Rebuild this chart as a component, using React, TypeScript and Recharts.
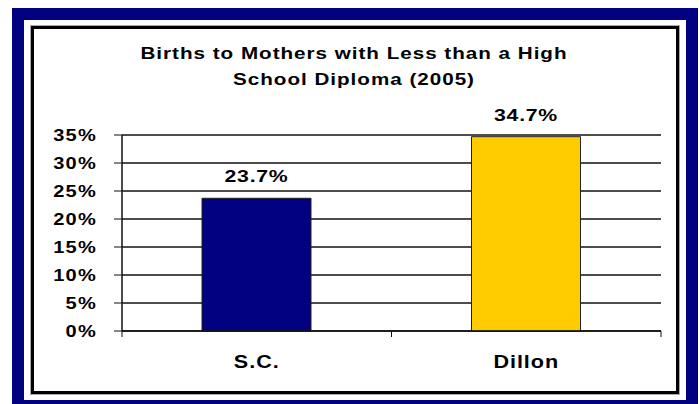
import React from "react";
import {
    BarChart, Bar, XAxis, YAxis, CartesianGrid, Cell, LabelList,
} from "recharts";

const titleLines = ["Births to Mothers with Less than a High", "School Diploma (2005)"];
const categories = ["S.C.", "Dillon"];
const values = [23.7, 34.7];
const barColors = ["#000080", "#FFCC00"];
const yTicks = [0, 5, 10, 15, 20, 25, 30, 35];

const data = categories.map((name, i) => ({ name, value: values[i] }));

const FONT = "'Liberation Sans', Arial, sans-serif";
const INK = "#111";
const STRETCH = 1.25; // the original text is drawn wide

function YTick({ x, y, payload }: any) {
    return (
        <text
            transform={`translate(${x},${y + 6}) scale(${STRETCH},1)`}
            textAnchor="end"
            fontFamily={FONT}
            fontWeight="bold"
            fontSize={16}
            letterSpacing={1}
            fill="#000"
        >
            {`${payload.value}%`}
        </text>
    );
}

function XTick({ x, y, payload, index }: any) {
    const off = payload?.offset ?? 0;
    const last = index === categories.length - 1;
    return (
        <g>
            {off > 0 && <line x1={x - off} x2={x - off} y1={y} y2={y + 6} stroke={INK} strokeWidth={1} />}
            {off > 0 && last && <line x1={x + off} x2={x + off} y1={y} y2={y + 6} stroke={INK} strokeWidth={1} />}
            <text
                transform={`translate(${x},${y + 37}) scale(1.2,1)`}
                textAnchor="middle"
                fontFamily={FONT}
                fontWeight="bold"
                fontSize={18}
                letterSpacing={0.8}
                fill="#000"
            >
                {payload.value}
            </text>
        </g>
    );
}

function ValueLabel({ x, y, width, value }: any) {
    return (
        <text
            transform={`translate(${x + width / 2},${y - 16}) scale(${STRETCH},1)`}
            textAnchor="middle"
            fontFamily={FONT}
            fontWeight="bold"
            fontSize={17}
            letterSpacing={0.6}
            fill="#000"
        >
            {`${value}%`}
        </text>
    );
}

export default function App() {
    return (
        <div style={{ position: "absolute", left: 0, top: 0, width: 699, height: 404, overflow: "hidden", background: "#fff" }}>
            {/* navy frame */}
            <div style={{
                position: "absolute", left: 12, top: 8, width: 686, height: 404,
                border: "12px solid #000080", boxSizing: "border-box",
            }} />
            {/* inner black frame */}
            <div style={{
                position: "absolute", left: 31, top: 26, width: 648, height: 368,
                border: "3px solid #000", boxSizing: "border-box",
                boxShadow: "0 0 0 1px #aaa",
            }} />

            <div style={{ position: "absolute", left: 0, top: 0 }}>
                <BarChart
                    width={699}
                    height={404}
                    data={data}
                    margin={{ top: 135, right: 38, left: 0, bottom: 0 }}
                    barSize={109}
                >
                    <CartesianGrid
                        yAxisId="left"
                        vertical={false}
                        stroke={INK}
                        strokeWidth={1.5}
                    />
                    <XAxis
                        dataKey="name"
                        height={73}
                        tickSize={0}
                        tickMargin={0}
                        tickLine={false}
                        axisLine={{ stroke: INK, strokeWidth: 1.5 }}
                        tick={<XTick />}
                        interval={0}
                    />
                    <YAxis
                        yAxisId="left"
                        width={122}
                        domain={[0, 35]}
                        ticks={yTicks}
                        interval={0}
                        tickSize={8}
                        tickMargin={17}
                        tickLine={{ stroke: INK, strokeWidth: 1 }}
                        axisLine={{ stroke: INK, strokeWidth: 1.5 }}
                        tick={<YTick />}
                    />
                    <YAxis
                        yAxisId="right"
                        orientation="right"
                        width={0}
                        tick={false}
                        tickLine={false}
                        axisLine={{ stroke: INK, strokeWidth: 1.5 }}
                    />
                    <Bar
                        yAxisId="left"
                        dataKey="value"
                        stroke="#222"
                        strokeWidth={1}
                        isAnimationActive={false}
                    >
                        {data.map((d, i) => (
                            <Cell key={d.name} fill={barColors[i]} />
                        ))}
                        <LabelList dataKey="value" content={<ValueLabel />} />
                    </Bar>
                </BarChart>
            </div>

            <svg width={699} height={404} style={{ position: "absolute", left: 0, top: 0, pointerEvents: "none" }}>
                {titleLines.map((line, i) => (
                    <text
                        key={line}
                        transform={`translate(354,${59 + i * 26}) scale(${STRETCH},1)`}
                        textAnchor="middle"
                        fontFamily={FONT}
                        fontWeight="bold"
                        fontSize={16.5}
                        letterSpacing={0.8}
                        fill="#000"
                    >
                        {line}
                    </text>
                ))}
            </svg>
        </div>
    );
}
